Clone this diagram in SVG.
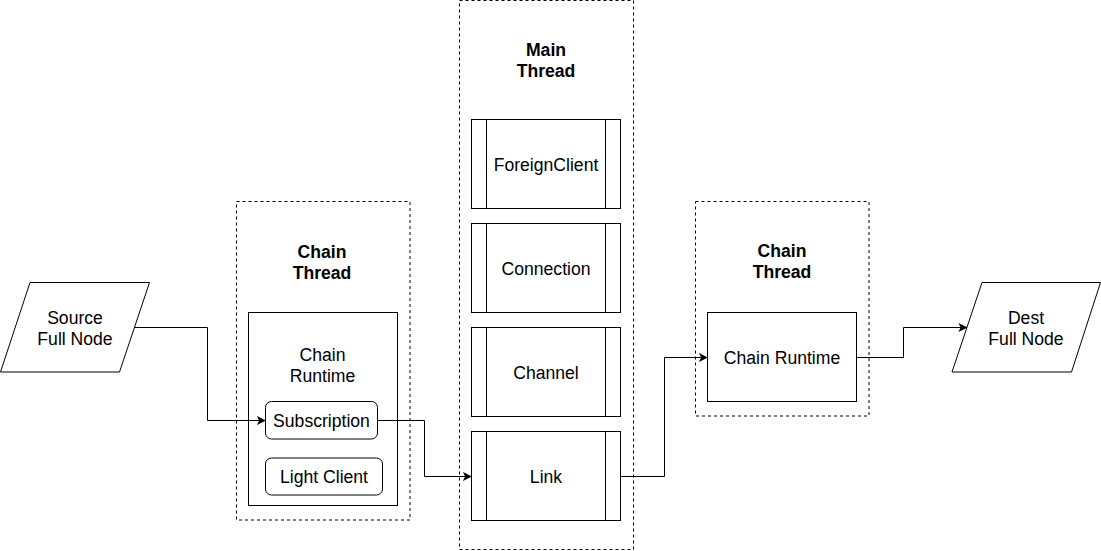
<svg xmlns="http://www.w3.org/2000/svg" width="1101" height="551" viewBox="0 0 1101 551">
<defs>
<style>
.bg{fill:#ffffff}
.box{fill:#ffffff;stroke:#000000;stroke-width:1}
.dash{fill:none;stroke:#000000;stroke-width:1;stroke-dasharray:3 3}
.line{fill:none;stroke:#000000;stroke-width:1}
.edge{fill:none;stroke:#000000;stroke-width:1;marker-end:url(#arr)}
text{font-family:"Liberation Sans",Arial,Helvetica,sans-serif;font-size:17.6px;fill:#000000;text-anchor:middle}
.b{font-weight:bold}
</style>
<marker id="arr" viewBox="0 0 10 10" refX="9" refY="5" markerWidth="9" markerHeight="9" markerUnits="userSpaceOnUse" orient="auto">
<path d="M0,0 L10,5 L0,10 L2.5,5 Z" fill="#000000"/>
</marker>
</defs>
<rect class="bg" x="0" y="0" width="1101" height="551"/>

<g id="main-thread">
<rect class="dash" x="459.5" y="0.5" width="174" height="549"/>
<text class="b" x="546" y="56">Main</text>
<text class="b" x="546" y="77">Thread</text>
</g>
<g id="chain-thread-left">
<rect class="dash" x="236.5" y="201.5" width="173.5" height="318.5"/>
<text class="b" x="322" y="257.5">Chain</text>
<text class="b" x="322" y="278.5">Thread</text>
</g>
<g id="chain-thread-right">
<rect class="dash" x="695.5" y="201.5" width="173.5" height="214.5"/>
<text class="b" x="782" y="257">Chain</text>
<text class="b" x="782" y="278">Thread</text>
</g>

<g id="source-full-node">
<polygon class="box" points="30,282.5 149.5,282.5 119.5,372 0.5,372"/>
<text x="75" y="324">Source</text>
<text x="75" y="345">Full Node</text>
</g>
<g id="chain-runtime-left">
<rect class="box" x="248.5" y="312.5" width="149" height="193"/>
<text x="322.5" y="361">Chain</text>
<text x="322.5" y="381.5">Runtime</text>
</g>
<g id="subscription">
<rect class="box" x="265.5" y="401.5" width="112" height="37.5" rx="6" ry="6"/>
<text x="321.5" y="426.5">Subscription</text>
</g>
<g id="light-client">
<rect class="box" x="265.5" y="458" width="117" height="37" rx="6" ry="6"/>
<text x="324" y="483">Light Client</text>
</g>

<g id="foreign-client">
<rect class="box" x="471.5" y="119.5" width="149" height="89"/>
<line class="line" x1="486.5" y1="119.5" x2="486.5" y2="208.5"/>
<line class="line" x1="605.5" y1="119.5" x2="605.5" y2="208.5"/>
<text x="546" y="170.5">ForeignClient</text>
</g>
<g id="connection">
<rect class="box" x="471.5" y="223.5" width="149" height="89"/>
<line class="line" x1="486.5" y1="223.5" x2="486.5" y2="312.5"/>
<line class="line" x1="605.5" y1="223.5" x2="605.5" y2="312.5"/>
<text x="546" y="274.5">Connection</text>
</g>
<g id="channel">
<rect class="box" x="471.5" y="327.5" width="149" height="89"/>
<line class="line" x1="486.5" y1="327.5" x2="486.5" y2="416.5"/>
<line class="line" x1="605.5" y1="327.5" x2="605.5" y2="416.5"/>
<text x="546" y="378.5">Channel</text>
</g>
<g id="link">
<rect class="box" x="471.5" y="431.5" width="149" height="89"/>
<line class="line" x1="486.5" y1="431.5" x2="486.5" y2="520.5"/>
<line class="line" x1="605.5" y1="431.5" x2="605.5" y2="520.5"/>
<text x="546" y="482.5">Link</text>
</g>

<g id="chain-runtime-right">
<rect class="box" x="707.5" y="312.5" width="149" height="89"/>
<text x="782" y="363.5">Chain Runtime</text>
</g>
<g id="dest-full-node">
<polygon class="box" points="982,282.5 1100.5,282.5 1071.5,372 952,372"/>
<text x="1026" y="324">Dest</text>
<text x="1026" y="345">Full Node</text>
</g>

<g id="connectors">
<path class="edge" d="M134.5,327.5 H207.5 V420.5 H265"/>
<path class="edge" d="M377.5,420.5 H424.5 V476.5 H471"/>
<path class="edge" d="M620.5,476.5 H664.5 V357.5 H707"/>
<path class="edge" d="M856.5,357.5 H903.5 V327.5 H966.5"/>
</g>
</svg>
